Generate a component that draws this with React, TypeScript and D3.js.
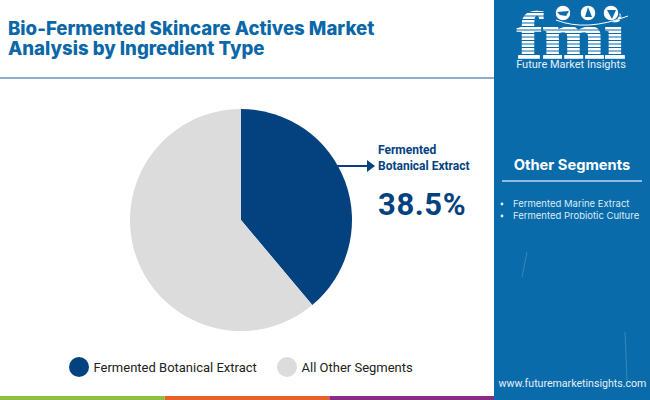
import React from "react";
import * as d3 from "d3";

const titleLines = ["Bio-Fermented Skincare Actives Market", "Analysis by Ingredient Type"];
const categories = ["Fermented Botanical Extract", "All Other Segments"];
const values = [38.9, 61.1];
const colors = ["#04427f", "#dcdcdc"];
const calloutLines = ["Fermented", "Botanical Extract"];
const calloutValue = "38.5%";
const otherSegments = ["Fermented Marine Extract", "Fermented Probiotic Culture"];
const stripeBars = ["#8cc043", "#e8602c", "#8a2c85"];
const stripeRows = [12, 15.5, 19, 22.5, 26, 29.5, 33, 36.5, 40, 43.5, 47, 50.5, 54];
const globes = [563, 588, 611];
const PANEL = "#0a6bab";

export default function App() {
  const pie = d3.pie<number>().sort(null).startAngle(0).endAngle(2 * Math.PI);
  const arc = d3.arc<d3.PieArcDatum<number>>().innerRadius(0).outerRadius(111);
  const arcs = pie(values);
  const barX = d3.scaleBand<number>().domain([0, 1, 2]).range([0, 494]);
  return (
    <svg width={650} height={400} viewBox="0 0 650 400" style={{ position: "absolute", left: 0, top: 0, background: "#fff" }}>
      {titleLines.map((t, i) => (
        <text key={t} x={8} y={35 + i * 19.5} fontFamily="Inter" fontWeight={800} fontSize={18.6} fill="#0a67a8">{t}</text>
      ))}
      <rect x={0} y={77} width={494} height={2} fill="#8aafc6" />

      <g transform="translate(241,220)">
        {arcs.map((a, i) => <path key={i} d={arc(a) ?? ""} fill={colors[i]} />)}
      </g>

      <line x1={337} y1={166} x2={368} y2={166} stroke="#04427f" strokeWidth={2} />
      <path d="M367,160 L375,166 L367,172 Z" fill="#04427f" />
      {calloutLines.map((t, i) => (
        <text key={t} x={378} y={154 + i * 15.5} fontFamily="Roboto" fontWeight={700} fontSize={12} fill="#04427f">{t}</text>
      ))}
      <text x={378} y={215} fontFamily="Roboto" fontWeight={700} fontSize={31} letterSpacing={0.6} fill="#04427f">{calloutValue}</text>

      {categories.map((c, i) => {
        const cx = [79, 287][i];
        return (
          <g key={c}>
            <circle cx={cx} cy={367} r={10} fill={colors[i]} />
            <text x={cx + 14.5} y={372} fontFamily="Roboto" fontSize={13} fill="#222">{c}</text>
          </g>
        );
      })}

      {stripeBars.map((c, i) => (
        <rect key={c} x={barX(i)} y={396} width={barX.bandwidth()} height={4} fill={c} />
      ))}

      <rect x={494} y={0} width={156} height={400} fill={PANEL} />
      <path d="M527,252 L522,277 M625,332 L627,380" stroke="#5fa3cf" strokeWidth={0.7} opacity={0.7} fill="none" />

      <text x={517} y={58} fontFamily="Liberation Serif" fontWeight={700} fontSize={65} textLength={108} lengthAdjust="spacingAndGlyphs" fill="#fff" stroke="#fff" strokeWidth={1.6}>fmi</text>
      {stripeRows.map((y) => (
        <rect key={y} x={515} y={y} width={112} height={1} fill={PANEL} />
      ))}
      {globes.map((cx) => (
        <circle key={cx} cx={cx} cy={13} r={8} fill="#fff" stroke={PANEL} strokeWidth={1.5} />
      ))}
      <path d="M557,12 L569,11 L566,16 L560,15 Z" fill={PANEL} />
      <path d="M585,17 L588,7 L592,17 Z" fill={PANEL} />
      <path d="M607,10 L616,10 L612,19 Z" fill={PANEL} />
      <path d="M556,20 Q586,32 628,16" fill="none" stroke="#fff" strokeWidth={1} />
      <text x={571} y={68} textAnchor="middle" fontFamily="Roboto" fontSize={11} fill="#e4f0f8">Future Market Insights</text>

      <text x={572} y={169.5} textAnchor="middle" fontFamily="Inter" fontWeight={700} fontSize={14.7} fill="#fff">Other Segments</text>
      <rect x={502} y={180} width={140} height={2} fill="#8fbcdc" />
      {otherSegments.map((t, i) => (
        <g key={t}>
          <circle cx={502} cy={204 + i * 12} r={1.4} fill="#e4f0f8" />
          <text x={513} y={207 + i * 12} fontFamily="Inter" fontSize={9.5} fill="#dcebf6">{t}</text>
        </g>
      ))}
      <text x={572.5} y={387} textAnchor="middle" fontFamily="Roboto" fontSize={10.6} fill="#e4f0f8">www.futuremarketinsights.com</text>
    </svg>
  );
}
